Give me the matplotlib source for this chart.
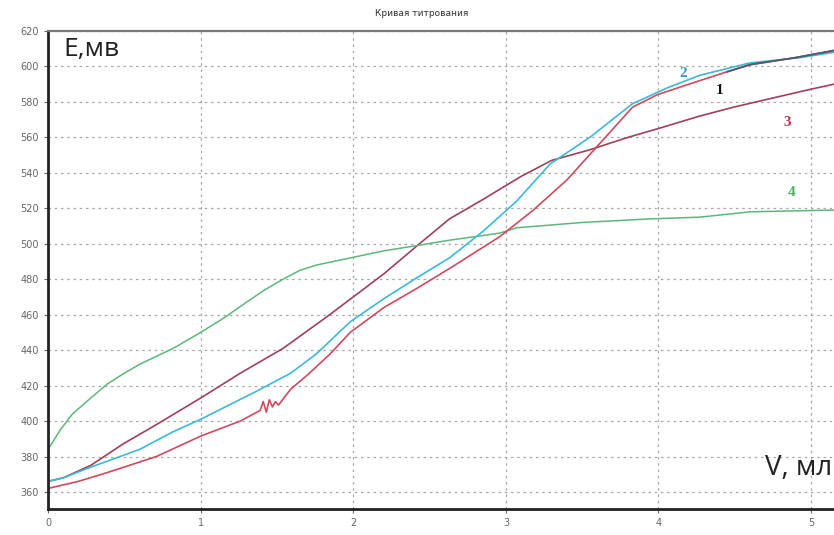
import numpy as np
import matplotlib.pyplot as plt

# Кривые потенциометрического титрования, E (мВ) от V (мл)
v1 = [0.0, 0.2, 0.39, 0.71, 1.0, 1.26, 1.39, 1.41, 1.43, 1.45, 1.47, 1.49, 1.51, 1.59, 1.7, 1.85,
      1.98, 2.2, 2.42, 2.63, 2.96, 3.18, 3.4, 3.62, 3.83, 3.99, 4.27, 4.45, 4.6, 4.9, 5.15]
e1 = [362, 366, 371, 380, 391.5, 400, 406, 411, 405, 412, 408, 411, 409, 418, 426, 438,
      450, 464, 475, 486, 504, 519, 536, 557, 577, 584, 592, 597, 601, 605, 609]

v2 = [0.0, 0.1, 0.28, 0.6, 0.82, 1.0, 1.37, 1.59, 1.76, 1.98, 2.2, 2.42, 2.63, 2.85, 3.07,
      3.29, 3.55, 3.83, 4.06, 4.27, 4.6, 4.93, 5.15]
e2 = [366, 368, 374, 384, 394, 401, 417, 427, 438, 456, 469, 481, 492, 507, 524,
      545, 560, 579, 588, 595, 602, 605, 608]

v3 = [0.0, 0.1, 0.28, 0.49, 0.71, 1.0, 1.26, 1.54, 1.83, 2.0, 2.2, 2.42, 2.63, 2.85, 3.1,
      3.3, 3.55, 3.8, 4.0, 4.27, 4.49, 4.99, 5.15]
e3 = [366, 368, 375, 387, 398, 413, 427, 441, 459, 470, 483, 499, 514, 525, 538,
      547, 553, 560, 565, 572, 577, 587, 590]

v4 = [0.0, 0.08, 0.16, 0.28, 0.39, 0.5, 0.6, 0.82, 1.0, 1.15, 1.3, 1.42, 1.54, 1.65, 1.76,
      1.98, 2.2, 2.42, 2.63, 2.96, 3.07, 3.5, 3.94, 4.27, 4.6, 5.15]
e4 = [384, 395, 404, 413, 421, 427, 432, 441, 450, 458, 467, 474, 480, 485, 488,
      492, 496, 499, 502, 506, 509, 512, 514, 515, 518, 519]

x_ticks = [0, 1, 2, 3, 4, 5]
y_ticks = list(range(360, 621, 20))

fig = plt.figure(figsize=(8.34, 5.35), dpi=100)
ax = fig.add_axes([0.0576, 0.0486, 0.9424, 0.8935])

ax.plot(v3, e3, color='#a0405a', lw=1.2)
ax.plot(v4, e4, color='#5cb87a', lw=1.1)
ax.plot(v2, e2, color='#3bbad8', lw=1.2)
ax.plot(v1, e1, color='#cf4a5e', lw=1.2)
# общий участок кривых 1 и 2 в конце титрования
v1a = np.array(v1)
e1a = np.array(e1)
tail = v1a >= 4.45
ax.plot(v1a[tail], e1a[tail], color='#4d5a70', lw=1.3)

ax.set_xlim(0, 5.15)
ax.set_ylim(350.4, 620)
ax.set_xticks(x_ticks)
ax.set_yticks(y_ticks)
ax.tick_params(labelsize=7, colors='#666666', length=3, width=0.8)
ax.grid(True, color='#a8a8a8', linestyle=(0, (2, 3)), lw=0.9)

for side in ['left', 'bottom']:
    ax.spines[side].set_color('#222222')
    ax.spines[side].set_linewidth(2)
ax.spines['top'].set_color('#777777')
ax.spines['top'].set_linewidth(1.6)
ax.spines['right'].set_visible(False)

fig.text(0.506, 0.975, 'Кривая титрования', ha='center', va='center',
         fontsize=6.5, color='#333333')

ax.text(0.02, 0.988, 'E,мв', transform=ax.transAxes, ha='left', va='top',
        fontsize=19, family=['Open Sans', 'DejaVu Sans'], color='#222222')
ax.text(0.998, 0.085, 'V, мл', transform=ax.transAxes, ha='right', va='center',
        fontsize=20, family=['Open Sans', 'DejaVu Sans'], color='#222222')

# номера кривых
ax.text(4.16, 596, '2', color='#3399cc', fontsize=11, weight='bold', family='Liberation Serif',
        ha='center', va='center')
ax.text(4.40, 586.5, '1', color='#111111', fontsize=11, weight='bold', family='Liberation Serif',
        ha='center', va='center')
ax.text(4.84, 568.5, '3', color='#c0304a', fontsize=11, weight='bold', family='Liberation Serif',
        ha='center', va='center')
ax.text(4.87, 529, '4', color='#44b060', fontsize=11, weight='bold', family='Liberation Serif',
        ha='center', va='center')

fig.savefig('out.png', dpi=100)
